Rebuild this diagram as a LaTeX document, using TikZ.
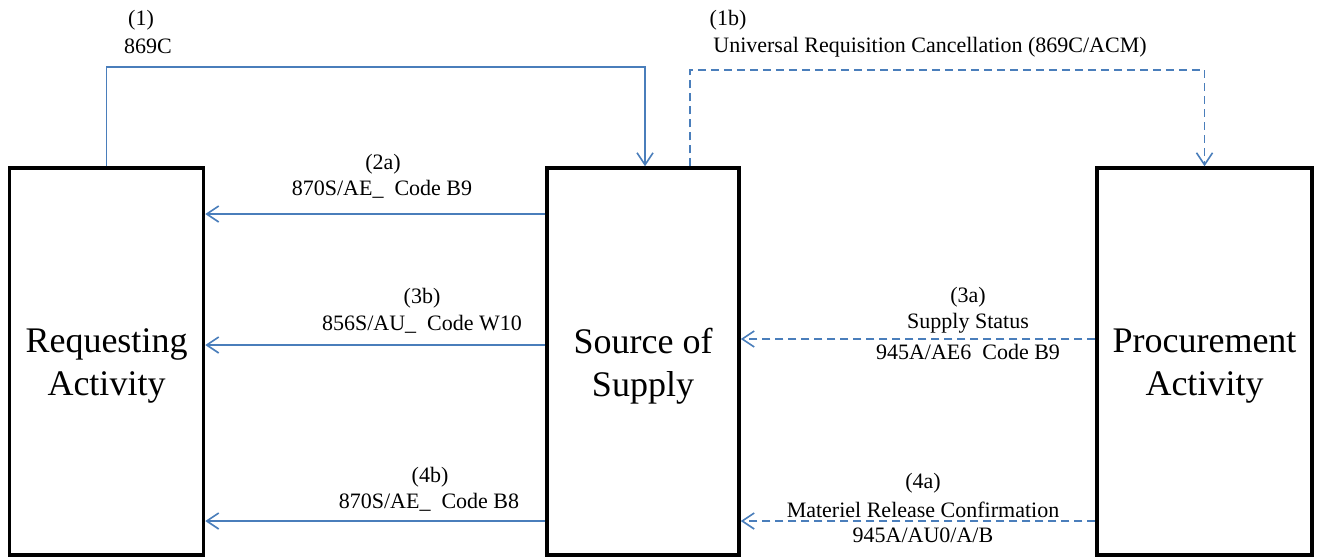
\documentclass[tikz,border=0pt]{standalone}
\usepackage{fontspec}
\setmainfont{Liberation Serif}
\usetikzlibrary{arrows.meta}
\definecolor{conblue}{HTML}{4A7EBB}
\begin{document}
\begin{tikzpicture}[x=1pt,y=-1pt,
  box/.style={draw=black,line width=3.5pt,minimum width=#1,minimum height=387pt,
    inner sep=0pt},
  bigtext/.style={font=\fontsize{36}{43}\selectfont,align=center,inner sep=0pt},
  conn/.style={draw=conblue,line width=1.6pt,
    -{Straight Barb[length=12pt,width=16pt,line width=1.6pt]}},
  dconn/.style={conn,dash pattern=on 8pt off 5pt},
  lbl/.style={font=\fontsize{22}{26.5}\selectfont,align=center,inner sep=0pt}]
\useasboundingbox (0,0) rectangle (1317,557);

% boxes
\node[box=194pt] (L) at (106.5,361.5) {};
\node[box=192pt] (M) at (643,361.5) {};
\node[box=215pt] (R) at (1204.5,361.5) {};
\node[bigtext] (Lt) at ([yshift=-4.5pt]L.center) {Requesting\\Activity};
\node[bigtext] (Mt) at ([yshift=-4.5pt]M.center) {Source of\\Supply};
\node[bigtext] (Rt) at ([yshift=-4.5pt]R.center) {Procurement\\Activity};

% helper coordinates
\coordinate (top1) at (0,67);
\coordinate (top2) at (0,70);
\coordinate (r2) at (0,214);
\coordinate (r3b) at (0,345);
\coordinate (r3a) at (0,339);
\coordinate (r4) at (0,521);

% connectors
\draw[conn] (L.north) -- (L.north |- top1) -| ([xshift=2pt]M.north);
\draw[dconn] ([xshift=47pt]M.north) -- ([xshift=47pt]M.north |- top2) -| (R.north);
\draw[conn] (M.west |- r2) -- (L.east |- r2);
\draw[conn] (M.west |- r3b) -- (L.east |- r3b);
\draw[dconn] (R.west |- r3a) -- (M.east |- r3a);
\draw[conn] (M.west |- r4) -- (L.east |- r4);
\draw[dconn] (R.west |- r4) -- (M.east |- r4);

% labels
\node[lbl] (l1a) at (141,20) {(1)};
\node[lbl] (l1b) at (148,46) {869C};
\node[lbl] (l1c) at (728,20) {(1b)};
\node[lbl] (l1d) at (930,47) {Universal Requisition Cancellation (869C/ACM)};
\node[lbl] (l2a) at (383,164) {(2a)};
\node[lbl] (l2b) at (382,189) {870S/AE\_\ \ Code B9};
\node[lbl] (l3ba) at (422,298) {(3b)};
\node[lbl] (l3bb) at (422,324) {856S/AU\_\ \ Code W10};
\node[lbl] (l3aa) at (968,297) {(3a)};
\node[lbl] (l3ab) at (968,323) {Supply Status};
\node[lbl] (l3ac) at (968,352) {945A/AE6\ \ Code B9};
\node[lbl] (l4ba) at (430,477) {(4b)};
\node[lbl] (l4bb) at (429,502) {870S/AE\_\ \ Code B8};
\node[lbl] (l4aa) at (923,483) {(4a)};
\node[lbl] (l4ab) at (923,510) {Materiel Release Confirmation};
\node[lbl] (l4ac) at (923,535) {945A/AU0/A/B};
\end{tikzpicture}
\end{document}
